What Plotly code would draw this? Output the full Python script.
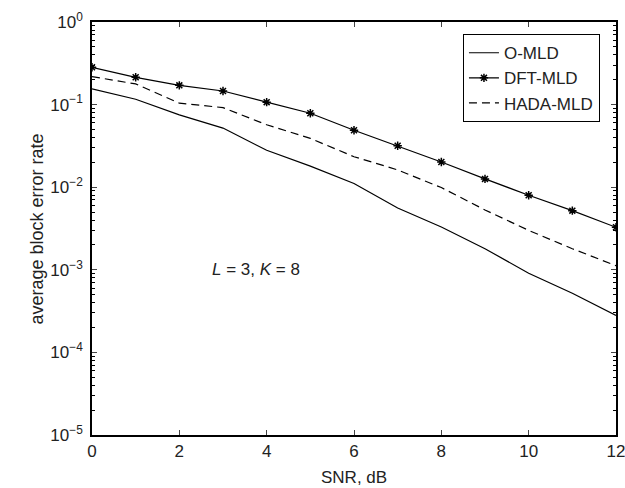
import plotly.graph_objects as go

snr = [0, 1, 2, 3, 4, 5, 6, 7, 8, 9, 10, 11, 12]

# average block error rate
o_mld = [0.155, 0.116, 0.075, 0.052, 0.028, 0.018, 0.0111, 0.0056, 0.0033,
         0.0018, 0.00091, 0.00052, 0.00028]
dft_mld = [0.283, 0.214, 0.171, 0.146, 0.107, 0.0785, 0.049, 0.0318, 0.0202,
           0.0126, 0.0080, 0.0052, 0.00327]
hada_mld = [0.218, 0.178, 0.104, 0.092, 0.057, 0.039, 0.0234, 0.0162, 0.0099,
            0.0053, 0.0030, 0.0018, 0.00112]

x_ticks = [0, 2, 4, 6, 8, 10, 12]
y_ticks = [1e-5, 1e-4, 1e-3, 1e-2, 1e-1, 1e0]
y_ticktext = ["10<sup>\u22125</sup>", "10<sup>\u22124</sup>", "10<sup>\u22123</sup>",
              "10<sup>\u22122</sup>", "10<sup>\u22121</sup>", "10<sup>0</sup>"]
y_minor = [m * 10.0 ** e for e in range(-5, 0) for m in range(2, 10)]

font = "Liberation Sans, Arial, sans-serif"
ink = "#222"

fig = go.Figure()
fig.add_trace(go.Scatter(x=snr, y=o_mld, name="O-MLD", mode="lines",
                         line=dict(color="black", width=1.2)))
fig.add_trace(go.Scatter(x=snr, y=dft_mld, name="DFT-MLD", mode="lines+markers",
                         line=dict(color="black", width=1.2),
                         marker=dict(symbol="asterisk", size=7, color="black",
                                     line=dict(color="black", width=1.5))))
fig.add_trace(go.Scatter(x=snr, y=hada_mld, name="HADA-MLD", mode="lines",
                         line=dict(color="black", width=1.2, dash="8px,5px")))

fig.add_annotation(x=3.76, y=-3, text="<i>L</i> = 3, <i>K</i> = 8", showarrow=False,
                   font=dict(family=font, size=17, color=ink))
# axis titles
fig.add_annotation(x=0.5, y=-0.102, xref="paper", yref="paper", text="SNR, dB",
                   xanchor="center", yanchor="middle", borderpad=0,
                   showarrow=False, font=dict(family=font, size=17, color=ink))
fig.add_annotation(x=-0.105, y=0.5, xref="paper", yref="paper",
                   text="average block error rate", textangle=-90,
                   xanchor="center", yanchor="middle",
                   showarrow=False, font=dict(family=font, size=18, color=ink))

fig.update_xaxes(range=[0, 12], tickvals=x_ticks, ticks="inside", ticklen=5,
                 showline=True, linecolor="black", linewidth=1.5, mirror="ticks",
                 showgrid=False, zeroline=False, automargin=False,
                 ticklabeloverflow="allow",
                 tickfont=dict(family=font, size=17, color=ink))
fig.update_yaxes(type="log", range=[-5, 0], tickvals=y_ticks, ticktext=y_ticktext,
                 ticks="inside", ticklen=5, ticklabelstandoff=4,
                 minor=dict(tickmode="array", tickvals=y_minor, ticks="inside", ticklen=3,
                            tickcolor="black"),
                 showline=True, linecolor="black", linewidth=1.5, mirror="ticks",
                 showgrid=False, zeroline=False, automargin=False,
                 ticklabeloverflow="allow",
                 tickfont=dict(family=font, size=17, color=ink))

fig.update_layout(
    width=625, height=488,
    margin=dict(l=92, r=9, t=22, b=53),
    plot_bgcolor="white", paper_bgcolor="white",
    legend=dict(x=0.969, y=0.971, xanchor="right", yanchor="top",
                bordercolor="black", borderwidth=1.2, bgcolor="white",
                font=dict(family=font, size=17, color=ink),
                tracegroupgap=0, itemwidth=30),
    showlegend=True,
)

fig.write_html("out.html", config={"displayModeBar": False},
               post_script="document.body.style.margin='0';")
